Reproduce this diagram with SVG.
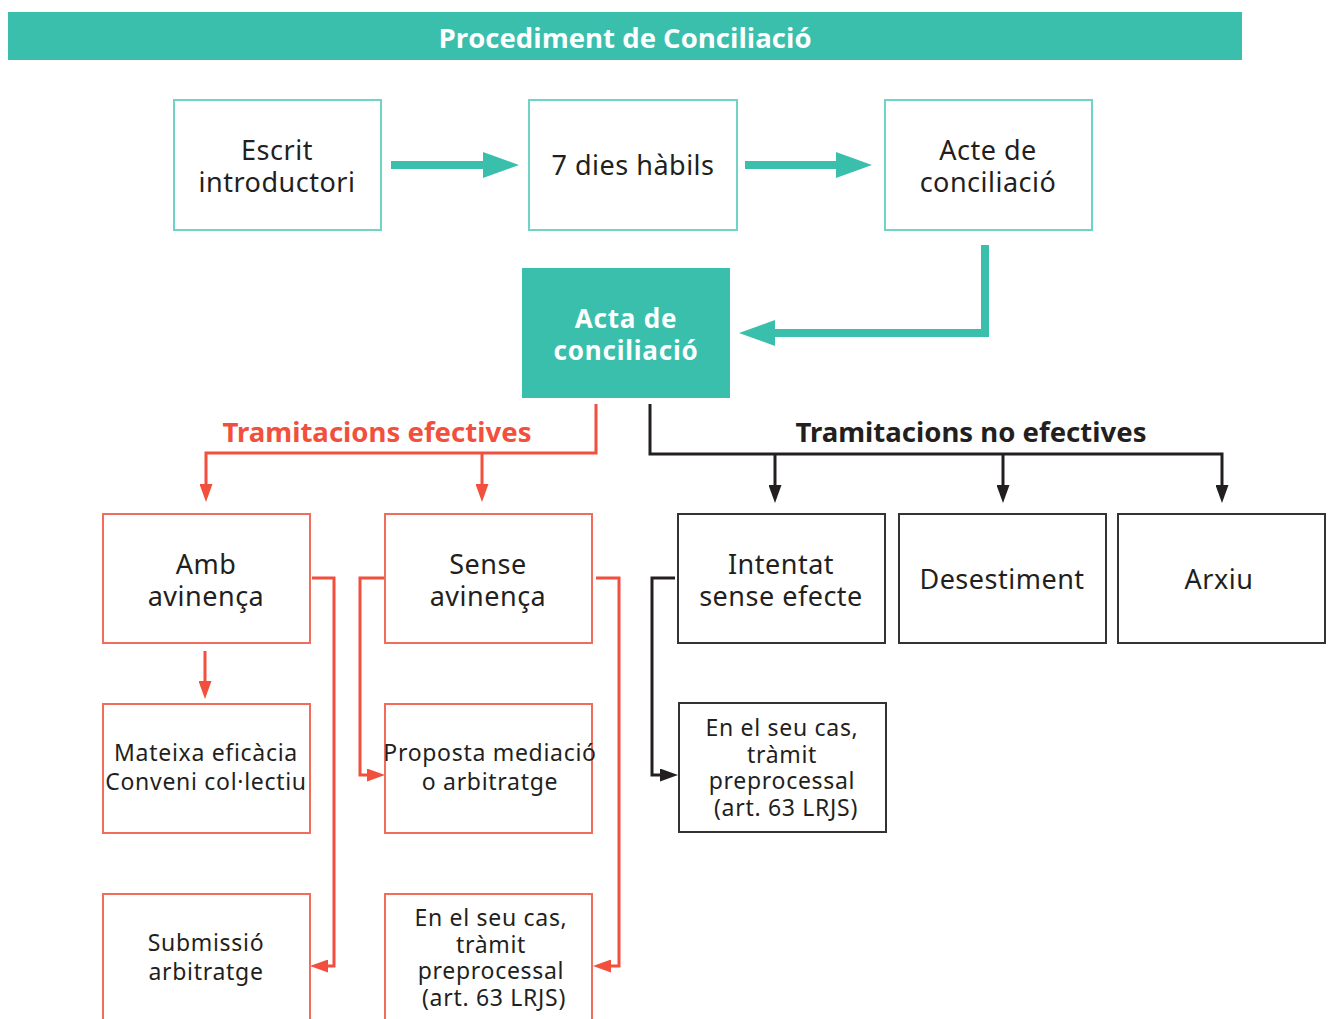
<svg xmlns="http://www.w3.org/2000/svg" width="1331" height="1019" viewBox="0 0 1331 1019">
<style>
.t{font-family:"Noto Sans","Liberation Sans",sans-serif;font-size:27px;letter-spacing:0.5px;fill:#231f20;text-anchor:middle}
.s{font-family:"Noto Sans","Liberation Sans",sans-serif;font-size:23px;letter-spacing:0.7px;fill:#231f20;text-anchor:middle}
.bt{fill:#fff;stroke:#6fd3c5;stroke-width:2}
.br{fill:#fff;stroke:#f26c5c;stroke-width:2}
.bk{fill:#fff;stroke:#333;stroke-width:2}
.tl{fill:none;stroke:#3bbfad;stroke-width:8}
.rl{fill:none;stroke:#f24f3d;stroke-width:3}
.kl{fill:none;stroke:#231f20;stroke-width:3}
.w{font-family:"Noto Sans","Liberation Sans",sans-serif;font-weight:bold;font-size:26px;letter-spacing:0.8px;fill:#fff;text-anchor:middle}
</style>
<defs>
<marker id="mt" markerUnits="userSpaceOnUse" markerWidth="36" markerHeight="26" refX="0" refY="13" orient="auto"><path d="M0,0 L36,13 L0,26 Z" fill="#3bbfad"/></marker>
<marker id="mr" markerUnits="userSpaceOnUse" markerWidth="18" markerHeight="13" refX="0" refY="6.5" orient="auto"><path d="M0,0 L18,6.5 L0,13 Z" fill="#f24f3d"/></marker>
<marker id="mk" markerUnits="userSpaceOnUse" markerWidth="18" markerHeight="13" refX="0" refY="6.5" orient="auto"><path d="M0,0 L18,6.5 L0,13 Z" fill="#231f20"/></marker>
</defs>
<rect width="1331" height="1019" fill="#fff"/>
<g id="header">
<rect x="8" y="12" width="1234" height="48" fill="#3bbfad"/>
<text x="625" y="48" font-family="'Open Sans','Noto Sans',sans-serif" font-weight="bold" font-size="26" fill="#fff" text-anchor="middle" textLength="373" lengthAdjust="spacingAndGlyphs">Procediment de Conciliació</text>
</g>
<g id="connectors">
<path class="tl" d="M391,165 H483" marker-end="url(#mt)"/>
<path class="tl" d="M745,165 H836" marker-end="url(#mt)"/>
<path class="tl" d="M985,245 V333 H775" marker-end="url(#mt)"/>
<path class="rl" d="M596,404 V453 H206 V484" marker-end="url(#mr)"/>
<path class="rl" d="M482,453 V484" marker-end="url(#mr)"/>
<path class="rl" d="M205,651 V681" marker-end="url(#mr)"/>
<path class="rl" d="M312,578 H334 V966 H328" marker-end="url(#mr)"/>
<path class="rl" d="M384,578 H360 V775 H367" marker-end="url(#mr)"/>
<path class="rl" d="M596,578 H619 V966 H611" marker-end="url(#mr)"/>
<path class="kl" d="M650,404 V454 H1222 V485" marker-end="url(#mk)"/>
<path class="kl" d="M775,454 V485" marker-end="url(#mk)"/>
<path class="kl" d="M1003,454 V485" marker-end="url(#mk)"/>
<path class="kl" d="M675,578 H652 V775 H660" marker-end="url(#mk)"/>
<text x="377" y="442" font-family="'Noto Sans','Liberation Sans',sans-serif" font-weight="bold" font-size="26" fill="#f24f3d" text-anchor="middle" textLength="309" lengthAdjust="spacingAndGlyphs">Tramitacions efectives</text>
<text x="971" y="442" font-family="'Noto Sans','Liberation Sans',sans-serif" font-weight="bold" font-size="26" fill="#231f20" text-anchor="middle" textLength="351" lengthAdjust="spacingAndGlyphs">Tramitacions no efectives</text>
</g>
<g id="escrit"><rect class="bt" x="174" y="100" width="207" height="130"/><text class="t" x="277" y="160">Escrit</text><text class="t" x="277" y="192">introductori</text></g>
<g id="dies"><rect class="bt" x="529" y="100" width="208" height="130"/><text class="t" x="633" y="175">7 dies hàbils</text></g>
<g id="acte"><rect class="bt" x="885" y="100" width="207" height="130"/><text class="t" x="988" y="160">Acte de</text><text class="t" x="988" y="192">conciliació</text></g>
<g id="acta"><rect x="522" y="268" width="208" height="130" fill="#3bbfad"/><text class="w" x="626" y="328">Acta de</text><text class="w" x="626" y="360">conciliació</text></g>
<g id="amb"><rect class="br" x="103" y="514" width="207" height="129"/><text class="t" x="206" y="574">Amb</text><text class="t" x="206" y="606">avinença</text></g>
<g id="sense"><rect class="br" x="385" y="514" width="207" height="129"/><text class="t" x="488" y="574">Sense</text><text class="t" x="488" y="606">avinença</text></g>
<g id="intentat"><rect class="bk" x="678" y="514" width="207" height="129"/><text class="t" x="781" y="574">Intentat</text><text class="t" x="781" y="606">sense efecte</text></g>
<g id="desestiment"><rect class="bk" x="899" y="514" width="207" height="129"/><text class="t" x="1002" y="589">Desestiment</text></g>
<g id="arxiu"><rect class="bk" x="1118" y="514" width="207" height="129"/><text class="t" x="1219" y="589">Arxiu</text></g>
<g id="mateixa"><rect class="br" x="103" y="704" width="207" height="129"/><text class="s" x="206" y="761">Mateixa eficàcia</text><text class="s" x="206" y="790">Conveni col·lectiu</text></g>
<g id="proposta"><rect class="br" x="385" y="704" width="207" height="129"/><text class="s" x="490" y="761">Proposta mediació</text><text class="s" x="490" y="790">o arbitratge</text></g>
<g id="preprocessal-k"><rect class="bk" x="679" y="703" width="207" height="129"/><text class="s" x="782" y="736">En el seu cas,</text><text class="s" x="782" y="763">tràmit</text><text class="s" x="782" y="789">preprocessal</text><text class="s" x="786" y="816">(art. 63 LRJS)</text></g>
<g id="submissio"><rect class="br" x="103" y="894" width="207" height="140"/><text class="s" x="206" y="951">Submissió</text><text class="s" x="206" y="980">arbitratge</text></g>
<g id="preprocessal-r"><rect class="br" x="385" y="894" width="207" height="140"/><text class="s" x="491" y="926">En el seu cas,</text><text class="s" x="491" y="953">tràmit</text><text class="s" x="491" y="979">preprocessal</text><text class="s" x="494" y="1006">(art. 63 LRJS)</text></g>
</svg>
